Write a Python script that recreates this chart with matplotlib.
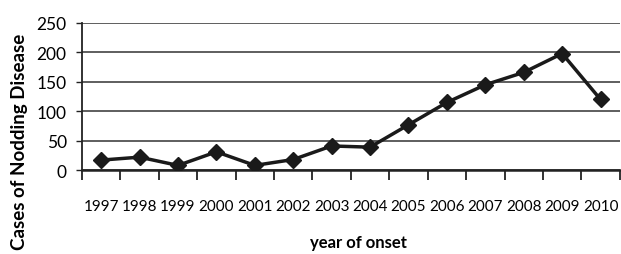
import matplotlib
matplotlib.use("Agg")
import matplotlib.pyplot as plt
import numpy as np

years = ["1997", "1998", "1999", "2000", "2001", "2002", "2003", "2004",
         "2005", "2006", "2007", "2008", "2009", "2010"]
cases = [17, 22, 8, 31, 8, 18, 41, 39, 77, 115, 145, 166, 198, 120]
yticks = [0, 50, 100, 150, 200, 250]

plt.rcParams['font.family'] = ['Lato', 'DejaVu Sans']

fig = plt.figure(figsize=(6.21, 2.55), dpi=100)
ax = fig.add_axes([0.132, 0.329, 0.866, 0.577])

x = np.arange(len(years))
ax.plot(x, cases, color='#1a1a1a', lw=2.5, marker='D', markersize=8, zorder=3)

ax.set_xlim(-0.5, len(years) - 0.5)
ax.set_ylim(0, 250)
ax.set_yticks(yticks)
ax.set_yticklabels([str(v) for v in yticks], fontsize=12.5)
ax.yaxis.grid(True, color='#333333', lw=1.1)
ax.set_axisbelow(True)

ax.set_xticks(x)
ax.set_xticklabels(years, fontsize=11)
ax.tick_params(axis='x', which='major', length=0, pad=21)
ax.set_xticks(np.arange(-0.5, len(years)), minor=True)
ax.tick_params(axis='x', which='minor', length=7, width=1.3, direction='out', color='#222222')
ax.tick_params(axis='y', length=4, width=1, color='#222222', pad=7)

for s in ['top', 'right']:
    ax.spines[s].set_visible(False)
ax.spines['left'].set_linewidth(1.3)
ax.spines['bottom'].set_linewidth(1.8)
ax.spines['left'].set_color('#222222')
ax.spines['bottom'].set_color('#222222')

fig.text(20 / 621, 1 - 142 / 255, "Cases of Nodding Disease", fontsize=13.5,
         fontweight='bold', rotation=90, ha='center', va='center')
fig.text(358 / 621, 1 - 243 / 255, "year of onset", fontsize=12,
         fontweight='bold', ha='center', va='center')

fig.savefig("out.png", dpi=100)
